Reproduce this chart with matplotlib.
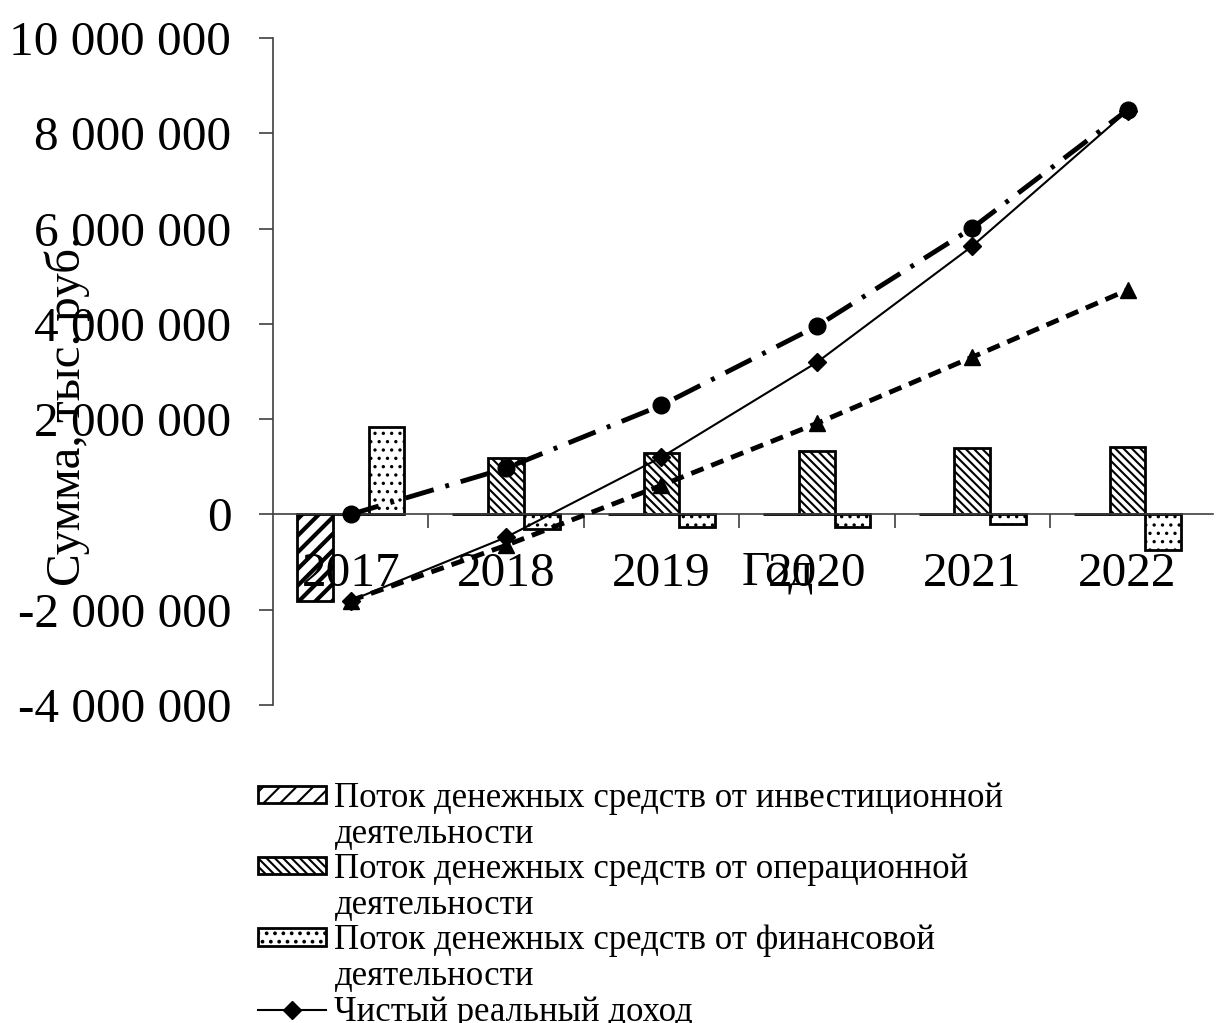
import matplotlib
matplotlib.use("Agg")
import matplotlib.pyplot as plt
from matplotlib.patches import Patch
from matplotlib.lines import Line2D
import numpy as np

# data
years = ["2017", "2018", "2019", "2020", "2021", "2022"]
invest_flow = [-1810000, 0, 0, 0, 0, 0]
oper_flow = [0, 1180000, 1280000, 1340000, 1390000, 1420000]
fin_flow = [1830000, -310000, -270000, -270000, -210000, -740000]
net_income = [-1810000, -480000, 1200000, 3190000, 5630000, 8470000]
disc_income = [-1810000, -650000, 610000, 1910000, 3300000, 4710000]
cum_flow = [0, 970000, 2290000, 3950000, 6010000, 8490000]

labels = ["Поток денежных средств от инвестиционной\nдеятельности",
          "Поток денежных средств от операционной\nдеятельности",
          "Поток денежных средств от финансовой\nдеятельности",
          "Чистый реальный доход",
          "Чистый дисконтированный доход",
          "Накопленный денежный поток"]

plt.rcParams['font.family'] = ['Liberation Serif', 'DejaVu Serif']
plt.rcParams['hatch.linewidth'] = 1.5

H_INV = '//'
H_OPER = '\\\\\\\\'
H_FIN = '..'

fig = plt.figure(figsize=(12.2, 10.23), dpi=100)
ax = fig.add_axes([0.2238, 0.3109, 0.7705, 0.652])
ax.set_axisbelow(False)

x = np.arange(len(years))
w = 0.23

def hatch_bars(vals, offset, hatch, hlw):
    bars = ax.bar(x + offset, vals, w, facecolor='white', edgecolor='black',
                  linewidth=2, hatch=hatch, zorder=2)
    for b in bars:
        if hasattr(b, 'set_hatch_linewidth'):
            b.set_hatch_linewidth(hlw)
    return bars

hatch_bars(invest_flow, -w, H_INV, 3)
hatch_bars(oper_flow, 0, H_OPER, 1.5)
hatch_bars(fin_flow, w, H_FIN, 1.2)

ax.plot(x, net_income, color='black', lw=1.5, marker='D', ms=9, zorder=4)
ax.plot(x, disc_income, color='black', lw=3.5, ls=(0, (2.7, 1.7)),
        marker='^', ms=11, zorder=4)
ax.plot(x, cum_flow, color='black', lw=3.5, ls=(0, (6, 2.5, 0.8, 2.5)),
        marker='o', ms=12, zorder=4)

ax.set_xlim(-0.5, 5.55)
ax.set_ylim(-4000000, 10000000)
ax.set_yticks(np.arange(-4000000, 10000001, 2000000))
ax.set_yticklabels(["{:,}".format(v).replace(",", " ") for v in
                    range(-4000000, 10000001, 2000000)])
ax.set_xticks(x)
ax.set_xticklabels(years)
ax.set_xticks(np.arange(0.5, 5.0, 1.0), minor=True)

ax.spines['top'].set_visible(False)
ax.spines['right'].set_visible(False)
ax.spines['bottom'].set_position(('data', 0))
for s in ['left', 'bottom']:
    ax.spines[s].set_color('#404040')
    ax.spines[s].set_linewidth(1.2)

ax.tick_params(axis='y', direction='out', length=10, width=1.2,
               color='#404040', pad=20, labelsize=35.5)
ax.tick_params(axis='x', which='major', length=0, pad=27, labelsize=35.5)
ax.tick_params(axis='x', which='minor', direction='out', length=10,
               width=1.2, color='#404040')

fig.text(67 / 1220, 1 - 411 / 1023, "Сумма, тыс. руб.", rotation=90,
         ha='center', va='center', fontsize=35.5)
fig.text(778 / 1220, 1 - 572 / 1023, "Год", ha='center', va='center',
         fontsize=35.5)

# legend: one row per text line, the handle on the first line of each entry
blank = Line2D([], [], color='none')
handles = [Patch(facecolor='white', edgecolor='black', hatch=H_INV, lw=2), blank,
           Patch(facecolor='white', edgecolor='black', hatch=H_OPER, lw=2), blank,
           Patch(facecolor='white', edgecolor='black', hatch=H_FIN, lw=2), blank,
           Line2D([], [], color='black', lw=1.5, marker='D', ms=9),
           Line2D([], [], color='black', lw=3.5, ls=(0, (2.7, 1.7)), marker='^', ms=11),
           Line2D([], [], color='black', lw=3.5, ls=(0, (6, 2.5, 0.8, 2.5)), marker='o', ms=12)]
rows = []
for lab in labels:
    rows.extend(lab.split("\n"))
fig.legend(handles, rows, loc='upper left', bbox_to_anchor=(258 / 1220, 1 - 782 / 1023),
           frameon=False, fontsize=25, handlelength=1.95, handleheight=0.38,
           handletextpad=0.25, labelspacing=0.075, borderpad=0, borderaxespad=0)

fig.savefig("out.png", dpi=100)
